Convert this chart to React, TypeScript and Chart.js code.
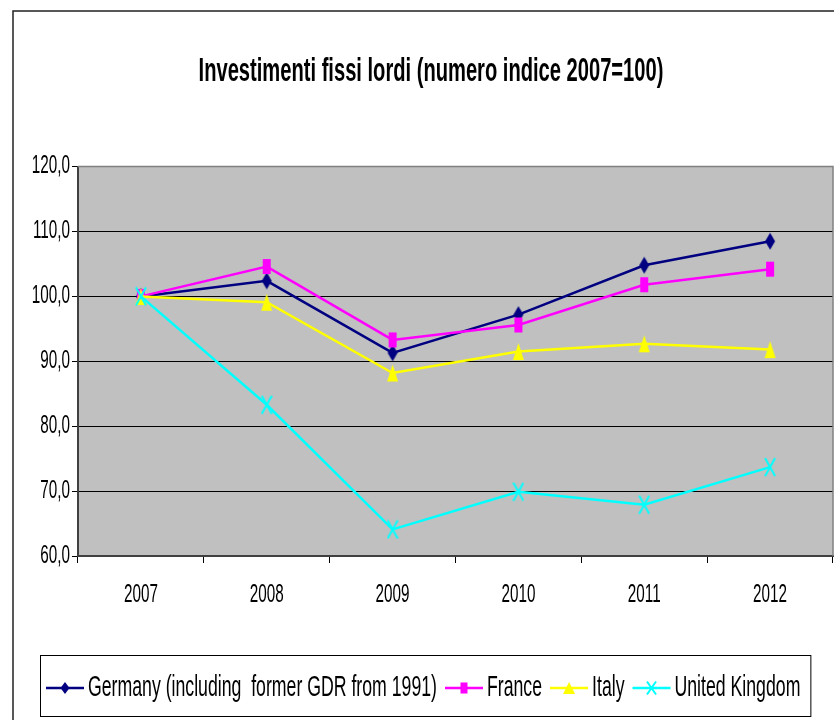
import React, { useEffect, useRef } from 'react';
import { Chart, registerables } from 'chart.js';

Chart.register(...registerables);

const TITLE = 'Investimenti fissi lordi (numero indice 2007=100)';
const CATEGORIES = ['2007', '2008', '2009', '2010', '2011', '2012'];
const GERMANY = [100, 102.4, 91.3, 97.2, 104.8, 108.5];
const FRANCE = [100, 104.6, 93.3, 95.6, 101.8, 104.2];
const ITALY = [100, 99.1, 88.2, 91.5, 92.7, 91.8];
const UNITED_KINGDOM = [100, 83.3, 64.1, 69.9, 67.9, 73.7];
const SERIES_NAMES = ['Germany (including  former GDR from 1991)', 'France', 'Italy', 'United Kingdom'];
const Y_TICKS = [60, 70, 80, 90, 100, 110, 120];

const FONT = '"Liberation Sans", Arial, sans-serif';
// the reference picture is squeezed horizontally: text is drawn condensed
const TEXT_SX = 0.61;

type MarkerKind = 'diamond' | 'square' | 'triangle' | 'x';

function drawMarker(ctx: CanvasRenderingContext2D, kind: MarkerKind, cx: number, cy: number, w: number, h: number, color: string) {
  ctx.save();
  ctx.fillStyle = color;
  ctx.strokeStyle = color;
  ctx.beginPath();
  if (kind === 'diamond') {
    ctx.moveTo(cx, cy - h / 2);
    ctx.lineTo(cx + w / 2, cy);
    ctx.lineTo(cx, cy + h / 2);
    ctx.lineTo(cx - w / 2, cy);
    ctx.closePath();
    ctx.fill();
  } else if (kind === 'square') {
    ctx.fillRect(cx - w / 2, cy - h / 2, w, h);
  } else if (kind === 'triangle') {
    ctx.moveTo(cx, cy - h / 2);
    ctx.lineTo(cx + w / 2, cy + h / 2);
    ctx.lineTo(cx - w / 2, cy + h / 2);
    ctx.closePath();
    ctx.fill();
  } else {
    ctx.lineWidth = 2;
    ctx.moveTo(cx - w / 2, cy - h / 2);
    ctx.lineTo(cx + w / 2, cy + h / 2);
    ctx.moveTo(cx + w / 2, cy - h / 2);
    ctx.lineTo(cx - w / 2, cy + h / 2);
    ctx.stroke();
  }
  ctx.restore();
}

function makeMarker(kind: MarkerKind, w: number, h: number, color: string) {
  const c = document.createElement('canvas');
  c.width = w + 2;
  c.height = h + 2;
  const cx = c.getContext('2d') as CanvasRenderingContext2D;
  drawMarker(cx, kind, c.width / 2, c.height / 2, w, h, color);
  return c;
}

const COLORS = ['#000080', '#FF00FF', '#FFFF00', '#00FFFF'];
const KINDS: MarkerKind[] = ['diamond', 'square', 'triangle', 'x'];
const CHART_MARKER_SIZE: [number, number][] = [[10, 17], [8, 15], [11, 17], [10, 18]];
const LEGEND_MARKER_SIZE: [number, number][] = [[9, 12], [7, 11], [12, 12], [9, 13]];

const frame = {
  id: 'frame',
  beforeDraw(chart: any) {
    const { ctx, chartArea: a } = chart;
    ctx.save();
    ctx.fillStyle = '#FFFFFF';
    ctx.fillRect(0, 0, chart.width, chart.height);
    ctx.fillStyle = '#C0C0C0';
    ctx.fillRect(a.left, a.top, a.right - a.left, a.bottom - a.top);
    ctx.strokeStyle = '#222';
    ctx.lineWidth = 1.5;
    ctx.beginPath();
    ctx.moveTo(13, chart.height);
    ctx.lineTo(13, 11);
    ctx.lineTo(chart.width, 11);
    ctx.stroke();
    ctx.restore();
  },
  beforeDatasetsDraw(chart: any) {
    const { ctx, chartArea: a } = chart;
    ctx.save();
    ctx.strokeStyle = '#808080';
    ctx.lineWidth = 1.5;
    ctx.beginPath();
    ctx.moveTo(a.left, a.top);
    ctx.lineTo(a.right, a.top);
    ctx.lineTo(a.right, a.bottom);
    ctx.stroke();
    ctx.restore();
  },
};

const legendBox = {
  id: 'legendBox',
  afterDraw(chart: any) {
    const { ctx } = chart;
    ctx.save();
    ctx.font = '29px ' + FONT;
    const lineLen = 38;
    const gapAfterLine = 4;
    const gapBetween = 8;
    const widths = chart.data.datasets.map((d: any) => ctx.measureText(d.label).width * TEXT_SX);
    let content = 0;
    widths.forEach((w: number, i: number) => {
      content += lineLen + gapAfterLine + w + (i < widths.length - 1 ? gapBetween : 0);
    });
    const boxL = 40;
    const boxW = content + 16;
    const boxT = chart.height - 65;
    const boxH = 61;
    ctx.strokeStyle = '#000';
    ctx.lineWidth = 1;
    ctx.strokeRect(boxL + 0.5, boxT + 0.5, boxW, boxH);
    let x = boxL + 6;
    const cy = boxT + 33;
    chart.data.datasets.forEach((d: any, i: number) => {
      ctx.strokeStyle = d.borderColor;
      ctx.lineWidth = 2.5;
      ctx.beginPath();
      ctx.moveTo(x, cy);
      ctx.lineTo(x + lineLen, cy);
      ctx.stroke();
      const [mw, mh] = LEGEND_MARKER_SIZE[i];
      drawMarker(ctx, KINDS[i], x + lineLen / 2, cy, mw, mh, d.borderColor);
      x += lineLen + gapAfterLine;
      ctx.fillStyle = '#000';
      ctx.textBaseline = 'alphabetic';
      ctx.textAlign = 'left';
      ctx.fillText(d.label, x, cy + 8);
      x += widths[i] + gapBetween;
    });
    ctx.restore();
  },
};

export default function App() {
  const ref = useRef<HTMLCanvasElement | null>(null);

  useEffect(() => {
    const canvas = ref.current;
    if (!canvas) return;
    const c2d = canvas.getContext('2d') as any;
    const origFill = c2d.fillText.bind(c2d);
    c2d.fillText = function (text: string, x: number, y: number) {
      c2d.save();
      c2d.translate(x, y);
      c2d.scale(TEXT_SX, 1);
      origFill(text, 0, 0);
      c2d.restore();
    };

    const seriesData = [GERMANY, FRANCE, ITALY, UNITED_KINGDOM];
    const datasets = seriesData.map((data, i) => {
      const [w, h] = CHART_MARKER_SIZE[i];
      return {
        label: SERIES_NAMES[i],
        data,
        borderColor: COLORS[i],
        backgroundColor: COLORS[i],
        borderWidth: 2.5,
        pointStyle: makeMarker(KINDS[i], w, h, COLORS[i]),
        pointRadius: 5,
        pointHoverRadius: 5,
        tension: 0,
        order: 4 - i,
      };
    });

    const chart = new Chart(canvas, {
      type: 'line',
      data: { labels: CATEGORIES, datasets },
      options: {
        animation: false,
        responsive: false,
        devicePixelRatio: 1,
        layout: { autoPadding: false, padding: { left: 29, right: 1, top: 0, bottom: 100 } },
        plugins: {
          legend: { display: false },
          tooltip: { enabled: false },
          title: {
            display: true,
            text: TITLE,
            color: '#000',
            font: { family: FONT, size: 33, weight: 'bold' },
            padding: { top: 52, bottom: 75 },
          },
        },
        scales: {
          x: {
            offset: true,
            grid: {
              offset: true,
              display: true,
              drawOnChartArea: false,
              drawTicks: true,
              tickLength: 7,
              color: '#000',
              tickColor: '#000',
            },
            border: { display: true, color: '#404040', width: 2 },
            ticks: {
              color: '#000',
              font: { family: FONT, size: 25 },
              padding: 17,
              maxRotation: 0,
              autoSkip: false,
            },
            afterFit: (s: any) => {
              s.height = 64;
              s.paddingLeft = 0;
              s.paddingRight = 0;
            },
          },
          y: {
            min: Y_TICKS[0],
            max: Y_TICKS[Y_TICKS.length - 1],
            afterBuildTicks: (s: any) => { s.ticks = Y_TICKS.map((v) => ({ value: v })); },
            grid: {
              color: (c: any) => (c.tick && c.tick.value === Y_TICKS[Y_TICKS.length - 1] ? '#808080' : '#000'),
              tickColor: '#000',
              lineWidth: 1,
              tickLength: 6,
            },
            border: { display: true, color: '#404040', width: 2 },
            ticks: {
              color: '#000',
              font: { family: FONT, size: 25 },
              padding: 2,
              callback: (v: any) => Number(v).toFixed(1).replace('.', ','),
            },
            afterFit: (s: any) => { s.width = 49; },
          },
        },
      },
      plugins: [frame, legendBox],
    });
    return () => {
      chart.destroy();
      c2d.fillText = origFill;
    };
  }, []);

  return (
    <div style={{ position: 'fixed', left: 0, top: 0, width: 834, height: 720, background: '#fff' }}>
      <canvas ref={ref} width={834} height={720} style={{ display: 'block' }} />
    </div>
  );
}
